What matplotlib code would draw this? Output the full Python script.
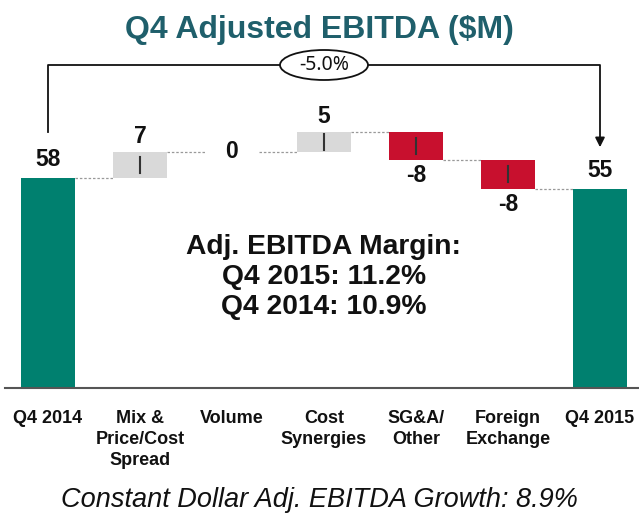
import matplotlib.pyplot as plt
from matplotlib.patches import Ellipse

# data
categories = ["Q4 2014", "Mix &\nPrice/Cost\nSpread", "Volume", "Cost\nSynergies",
              "SG&A/\nOther", "Foreign\nExchange", "Q4 2015"]
start_value = 58.0
end_value = 55.0
deltas = [7.2, 0.1, 5.4, -7.7, -8.0]
value_labels = ["58", "7", "0", "5", "-8", "-8", "55"]
change_label = "-5.0%"
margin_lines = ["Adj. EBITDA Margin:", "Q4 2015: 11.2%", "Q4 2014: 10.9%"]
title = "Q4 Adjusted EBITDA ($M)"
footer = "Constant Dollar Adj. EBITDA Growth: 8.9%"

teal = "#00806f"
grey = "#d9d9d9"
red = "#c8102e"
title_col = "#1f5f6b"

W, H = 639, 525
fig = plt.figure(figsize=(W / 100, H / 100), dpi=100)
base_px = 137
ax = fig.add_axes([0, base_px / H, 1, 1 - base_px / H])
px_per_unit = 210 / 58
ax.set_ylim(0, (H - base_px) / px_per_unit)
ax.set_xlim(-48 / 92, (W - 48) / 92)
ax.axis("off")

bw = 0.58
lab_font = dict(family="Liberation Sans", fontweight="bold", fontsize=16.5, color="#111111")

# end bars
ax.bar(0, start_value, width=bw, color=teal)
ax.bar(6, end_value, width=bw, color=teal)
ax.text(0, start_value + 2.0, value_labels[0], ha="center", va="bottom", **lab_font)
ax.text(6, end_value + 2.0, value_labels[6], ha="center", va="bottom", **lab_font)

level = start_value
for i, d in enumerate(deltas, start=1):
    col = grey if d >= 0 else red
    ax.bar(i, abs(d), bottom=min(level, level + d), width=bw, color=col)
    new = level + d
    # connector from previous bar
    ax.plot([i - 1 + bw / 2, i - bw / 2], [level, level], color="#999999",
            lw=0.9, ls=(0, (2, 1.5)))
    mid = level + d / 2
    if abs(d) > 1:
        ax.plot([i, i], [mid - 2.2, mid + 2.2], color="#333333", lw=1.5)
    if i == 2:
        ax.text(i, level, value_labels[i], ha="center", va="center",
                bbox=dict(fc="white", ec="none", pad=1), **lab_font)
    elif d >= 0:
        ax.text(i, new + 1.0, value_labels[i], ha="center", va="bottom", **lab_font)
    else:
        ax.text(i, new - 1.2, value_labels[i], ha="center", va="top", **lab_font)
    level = new
ax.plot([5 + bw / 2, 6 - bw / 2], [level, level], color="#999999",
        lw=0.9, ls=(0, (2, 1.5)))

# baseline
ax.plot([-0.47, 6.45], [0, 0], color="#555555", lw=1.5, clip_on=False)

# bracket with arrow
def ypx(p):
    return (H - p - base_px) / px_per_unit

yb = ypx(65)
ax.plot([0, 0, 6, 6], [ypx(132), yb, yb, ypx(138)], color="#111111", lw=1.3)
ax.annotate("", xy=(6, ypx(150)), xytext=(6, ypx(136)),
            arrowprops=dict(arrowstyle="-|>", color="#111111", lw=1.3,
                            mutation_scale=14))
ax.add_patch(Ellipse((3, yb), 88 / 92, 30 / px_per_unit, fc="white",
                     ec="#111111", lw=1.3, zorder=3))
ax.text(3, yb, change_label, ha="center", va="center", zorder=4,
        family="Noto Sans", fontsize=14, color="#111111")

# margin text
for k, line in enumerate(margin_lines):
    ax.text(3, ypx(247 + 30 * k), line, ha="center", va="center",
            family="Liberation Sans", fontweight="bold", fontsize=20.3, color="#111111")

# category labels
for i, c in enumerate(categories):
    ax.text(i, ypx(410), c, ha="center", va="top", family="Liberation Sans",
            fontweight="bold", fontsize=13, linespacing=1.3, color="#111111")

fig.text(0.5, 1 - 30 / H, title, ha="center", va="center", family="Liberation Sans",
         fontweight="bold", fontsize=23, color=title_col)
fig.text(0.5, 1 - 500 / H, footer, ha="center", va="center", family="Liberation Sans",
         style="italic", fontsize=19.5, color="#111111")

fig.savefig("out.png", dpi=100)
